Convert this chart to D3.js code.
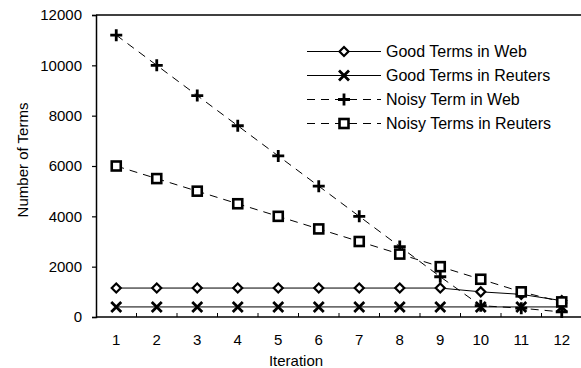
<!DOCTYPE html>
<html>
<head>
<meta charset="utf-8">
<script src="https://cdn.jsdelivr.net/npm/d3@7/dist/d3.min.js"></script>
<style>
  html, body { margin: 0; padding: 0; background: #fff; }
  svg { display: block; font-family: "Liberation Sans", Arial, sans-serif; }
</style>
</head>
<body>
<svg id="chart" width="581" height="368"></svg>
<script>
// Iterations on the x axis
const iterations = [1, 2, 3, 4, 5, 6, 7, 8, 9, 10, 11, 12];

// Term counts per iteration
const goodWeb     = [1150, 1150, 1150, 1150, 1150, 1150, 1150, 1150, 1150, 1000, 900, 650];
const goodReuters = [400, 400, 400, 400, 400, 400, 400, 400, 400, 400, 400, 400];
const noisyWeb    = [11200, 10000, 8800, 7600, 6400, 5200, 4000, 2800, 1600, 450, 350, 200];
const noisyReuters= [6000, 5500, 5000, 4500, 4000, 3500, 3000, 2500, 2000, 1500, 1000, 600];

const seriesNames = ["Good Terms in Web", "Good Terms in Reuters", "Noisy Term in Web", "Noisy Terms in Reuters"];
const yTicks = [0, 2000, 4000, 6000, 8000, 10000, 12000];

const series = [
  { name: seriesNames[0], values: goodWeb,      dashed: false, marker: "diamond" },
  { name: seriesNames[1], values: goodReuters,  dashed: false, marker: "cross" },
  { name: seriesNames[2], values: noisyWeb,     dashed: true,  marker: "plus" },
  { name: seriesNames[3], values: noisyReuters, dashed: true,  marker: "square" }
];

const svg = d3.select("#chart");
const plotLeft = 96, plotRight = 582, plotTop = 15, plotBottom = 317;

const x = d3.scaleBand().domain(iterations).range([plotLeft, plotRight]);
const y = d3.scaleLinear().domain([0, 12000]).range([plotBottom, plotTop]);
const cx = d => x(d) + x.bandwidth() / 2;

// frame: top border line
svg.append("line")
  .attr("x1", plotLeft).attr("x2", 581).attr("y1", plotTop).attr("y2", plotTop)
  .attr("stroke", "#000").attr("stroke-width", 1.5);

// y axis
const yAxis = svg.append("g")
  .attr("transform", `translate(${plotLeft},0)`)
  .call(d3.axisLeft(y).tickValues(yTicks).tickFormat(d3.format("d")).tickSize(4).tickPadding(10));
yAxis.select(".domain").attr("stroke-width", 1.5);
yAxis.selectAll(".tick line").attr("stroke-width", 1.2);
yAxis.selectAll("text").attr("font-size", 15).attr("font-family", "Liberation Sans, Arial, sans-serif").attr("fill", "#000");

// x axis: labels centered in bands, short inward ticks at band boundaries
const xAxis = svg.append("g")
  .attr("transform", `translate(0,${plotBottom})`)
  .call(d3.axisBottom(x).tickSize(0).tickPadding(17));
xAxis.select(".domain").attr("stroke-width", 1.5).attr("d", `M${plotLeft},0H581`);
xAxis.selectAll("text").attr("font-size", 15).attr("font-family", "Liberation Sans, Arial, sans-serif").attr("fill", "#000");
svg.append("g").selectAll("line")
  .data(iterations.slice(1))
  .join("line")
  .attr("x1", d => x(d)).attr("x2", d => x(d))
  .attr("y1", plotBottom).attr("y2", plotBottom - 4)
  .attr("stroke", "#000").attr("stroke-width", 1);

// axis titles
svg.append("text")
  .attr("x", 296).attr("y", 366)
  .attr("text-anchor", "middle").attr("font-size", 15)
  .text("Iteration");
svg.append("text")
  .attr("transform", "translate(28,160) rotate(-90)")
  .attr("text-anchor", "middle").attr("font-size", 15)
  .text("Number of Terms");

// marker drawing
function drawMarker(g, type) {
  if (type === "diamond") {
    g.append("path").attr("d", "M0,-4.5L4.5,0L0,4.5L-4.5,0Z")
      .attr("fill", "#fff").attr("stroke", "#000").attr("stroke-width", 2.2);
  } else if (type === "cross") {
    g.append("path").attr("d", "M-5,-5L5,5M-5,5L5,-5")
      .attr("stroke", "#000").attr("stroke-width", 2.8).attr("fill", "none");
  } else if (type === "plus") {
    g.append("path").attr("d", "M-6,0H6M0,-6V6")
      .attr("stroke", "#000").attr("stroke-width", 2.8).attr("fill", "none");
  } else if (type === "square") {
    g.append("rect").attr("x", -4.5).attr("y", -4.5).attr("width", 9).attr("height", 9)
      .attr("fill", "#fff").attr("stroke", "#000").attr("stroke-width", 2.6);
  }
}

const line = d3.line().x((d, i) => cx(iterations[i])).y(d => y(d));

// lines first, then markers on top
series.forEach(s => {
  svg.append("path")
    .attr("d", line(s.values))
    .attr("fill", "none").attr("stroke", "#000").attr("stroke-width", 1)
    .attr("stroke-dasharray", s.dashed ? "8,6" : null);
});
series.forEach(s => {
  s.values.forEach((v, i) => {
    const g = svg.append("g").attr("transform", `translate(${cx(iterations[i])},${y(v)})`);
    drawMarker(g, s.marker);
  });
});

// legend
const legend = svg.append("g");
series.forEach((s, i) => {
  const ly = 51.5 + i * 24;
  const row = legend.append("g");
  row.append("line")
    .attr("x1", 307).attr("x2", 381).attr("y1", ly).attr("y2", ly)
    .attr("stroke", "#000").attr("stroke-width", 1)
    .attr("stroke-dasharray", s.dashed ? "8,6" : null);
  drawMarker(row.append("g").attr("transform", `translate(344,${ly})`), s.marker);
  row.append("text")
    .attr("x", 386).attr("y", ly + 5.5)
    .attr("font-size", 16)
    .text(s.name);
});
</script>
</body>
</html>
